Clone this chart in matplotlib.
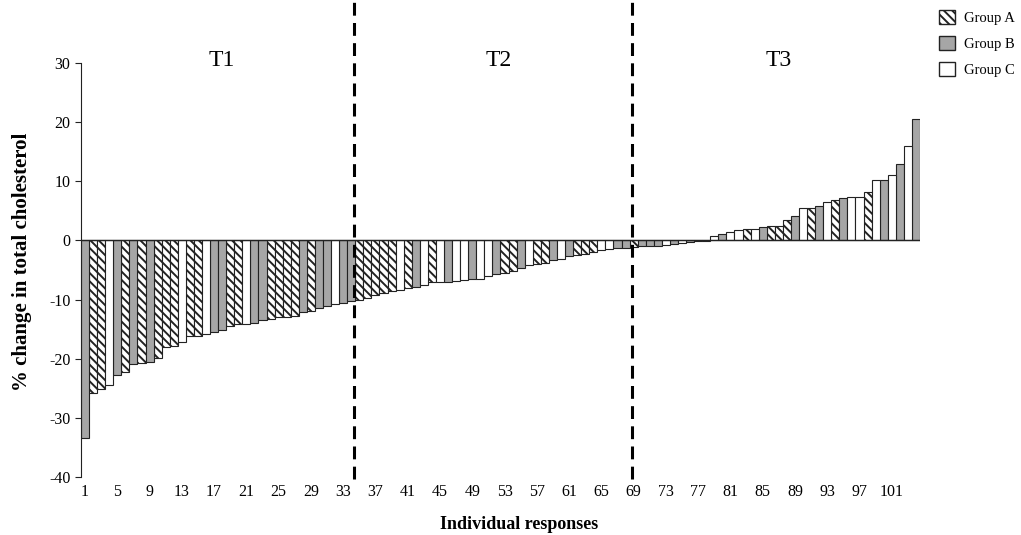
import numpy as np
import matplotlib
matplotlib.use("Agg")
import matplotlib.pyplot as plt
from matplotlib.patches import Patch
from matplotlib.lines import Line2D

plt.rcParams['font.family'] = ['Liberation Serif', 'DejaVu Serif']
plt.rcParams['hatch.linewidth'] = 1.4
plt.rcParams['axes.unicode_minus'] = False

# individual responses sorted by % change, with the group of each person
pct_change = [
    -33.4, -25.8, -25.2, -24.4, -22.8, -22.3, -20.9, -20.7, -20.5, -19.8,
    -18.1, -17.8, -17.2, -16.2, -16.1, -15.9, -15.5, -15.2, -14.5, -14.2,
    -14.1, -13.9, -13.4, -13.2, -13.0, -12.9, -12.7, -12.1, -11.9, -11.5,
    -11.1, -10.7, -10.6, -10.3, -10.1, -9.7, -9.2, -8.9, -8.5, -8.3,
    -8.0, -7.8, -7.6, -7.1, -7.0, -7.0, -6.9, -6.7, -6.6, -6.5,
    -6.0, -5.7, -5.5, -5.2, -4.6, -4.2, -4.0, -3.8, -3.3, -3.1,
    -2.6, -2.5, -2.3, -2.0, -1.7, -1.5, -1.35, -1.2, -1.1, -0.95,
    -0.95, -0.9, -0.7, -0.55, -0.35, -0.2, -0.1, -0.05, 0.7, 1.1,
    1.4, 1.8, 1.9, 2.0, 2.2, 2.5, 2.5, 3.5, 4.1, 5.5,
    5.5, 5.9, 6.5, 6.9, 7.1, 7.3, 7.4, 8.2, 10.2, 10.2,
    11.1, 12.9, 16.0, 20.5,
]
group = list(
    "BAACBABABA"
    "AACAACBBAA"
    "CBBAAAABAB"
    "BCBBAAAAAC"
    "ABCACBCCBC"
    "CBAABCAABC"
    "BAAACCBBAB"
    "BBCBCBCACB"
    "CCACBAAABC"
    "ABCABCCACB"
    "CBCB"
)
tertile_names = ["T1", "T2", "T3"]
tertile_label_x = [18, 52.3, 87]
tertile_cuts = [34.3, 68.8]
xtick_labels = list(range(1, 105, 4))

responses = np.arange(1, len(pct_change) + 1)
values = np.array(pct_change)
group = np.array(group)

styles = {
    "A": dict(color="white", hatch="\\\\\\\\", label="Group A"),
    "B": dict(color="#a6a6a6", hatch=None, label="Group B"),
    "C": dict(color="white", hatch=None, label="Group C"),
}

fig = plt.figure(figsize=(10.21, 5.35), dpi=100)
ax = fig.add_axes([0.0793, 0.1084, 0.8218, 0.7738])

for g, st in styles.items():
    m = group == g
    ax.bar(responses[m], values[m], width=1.0, color=st["color"],
           edgecolor="#222222", linewidth=0.8, hatch=st["hatch"], zorder=2)

ax.axhline(0, color="#222222", lw=1.0, zorder=3)

ax.set_xlim(0.5, len(pct_change) + 0.5)
ax.set_ylim(-40, 30)
ax.set_yticks(range(-40, 31, 10))
ax.set_xticks(xtick_labels)
ax.set_xticklabels([str(v) for v in xtick_labels])
ax.tick_params(axis="x", length=0, labelsize=11.5, pad=5)
ax.tick_params(axis="y", length=4, direction="out", labelsize=11.5, color="#222222")

for s in ["top", "right", "bottom"]:
    ax.spines[s].set_visible(False)
ax.spines["left"].set_color("#222222")

ax.set_xlabel("Individual responses", fontweight="bold", fontsize=13)
ax.xaxis.set_label_coords(0.522, -0.095)
ax.set_ylabel("% change in total cholesterol", fontweight="bold", fontsize=15)
ax.yaxis.set_label_coords(-0.058, 0.52)

# tertile separators
for c in tertile_cuts:
    ax.add_line(Line2D([c, c], [-40.3, 40.6], color="black", lw=2.2,
                       dashes=(4.2, 2.4), clip_on=False, zorder=4))

for name, xp in zip(tertile_names, tertile_label_x):
    ax.text(xp, 30.5, name, ha="center", va="center", fontsize=17)

handles = [Patch(facecolor=st["color"], edgecolor="#222222", hatch=st["hatch"],
                 label=st["label"]) for st in styles.values()]
fig.legend(handles=handles, loc="upper left", bbox_to_anchor=(0.91, 1.0),
           frameon=False, fontsize=10.5, handlelength=1.1, handleheight=1.1,
           labelspacing=0.75, handletextpad=0.6, borderaxespad=0.3)

fig.savefig("out.png", dpi=100)
